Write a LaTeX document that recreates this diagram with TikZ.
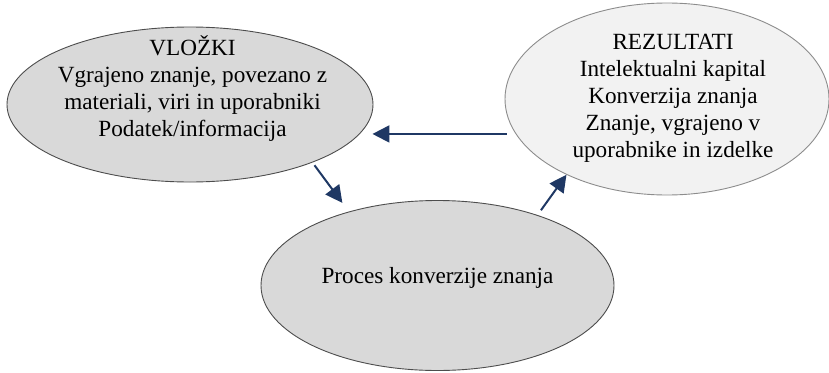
\documentclass[tikz,border=0pt]{standalone}
\usepackage{fontspec}
\setmainfont{Liberation Serif}
\usetikzlibrary{arrows.meta,
                positioning,
                shapes.geometric} % For ellipse
\definecolor{navyarrow}{HTML}{1F3864}
\definecolor{fillmid}{HTML}{D9D9D9}
\definecolor{filllight}{HTML}{F2F2F2}
\definecolor{edgedark}{HTML}{4D4D4D}
\definecolor{edgelight}{HTML}{8C8C8C}

\begin{document}
\begin{tikzpicture}[x=1pt, y=-1pt]
    \tikzset
    {
        base/.style = {ellipse,
                       line width = 0.9pt,
                       inner sep = 0pt},
        inputs/.style = {base,
                         draw = edgedark,
                         fill = fillmid,
                         minimum width = 366pt,
                         minimum height = 155pt},
        outputs/.style = {base,
                          draw = edgelight,
                          fill = filllight,
                          minimum width = 324pt,
                          minimum height = 192pt},
        process/.style = {base,
                          draw = edgedark,
                          fill = fillmid,
                          minimum width = 353pt,
                          minimum height = 170pt},
        txt/.style = {align = center,
                      inner sep = 0pt,
                      font = \fontsize{23.2}{27}\selectfont},
        flow/.style = {draw = navyarrow,
                       line width = 2pt,
                       -{Triangle[length=17pt, width=17pt]}}
    };
    \useasboundingbox (0,0) rectangle (829,372);

    % Ellipses
    \node[inputs] (vlozki) at (190,104.5) {};
    \node[outputs] (rezultati) at (667,99) {};
    \node[process] (proces) at (437.5,285.5) {};

    % Texts
    \node[txt] (vlozki text) at ([xshift=2.5pt, yshift=15.5pt] vlozki.center)
        {VLOŽKI\\Vgrajeno znanje, povezano z\\materiali, viri in uporabniki\\Podatek/informacija};
    \node[txt] (rezultati text) at ([xshift=6pt, yshift=0.5pt] rezultati.center)
        {REZULTATI\\Intelektualni kapital\\Konverzija znanja\\Znanje, vgrajeno v\\uporabnike in izdelke};
    \node[txt] (proces text) at ([yshift=8pt] proces.center) {Proces konverzije znanja};

    % Arrows
    \draw[flow] ([xshift=-9pt] rezultati.193.1) -- ([xshift=-1pt] vlozki.east |- rezultati.193.1);
    \draw[flow] ([xshift=4pt, yshift=-2pt] vlozki.-26.6)
        -- ([xshift=-9.2pt, yshift=7.9pt] proces.139.2);
    \draw[flow] ([xshift=5.5pt, yshift=4.1pt] proces.36.4) -- (rezultati.217.1);
\end{tikzpicture}
\end{document}
